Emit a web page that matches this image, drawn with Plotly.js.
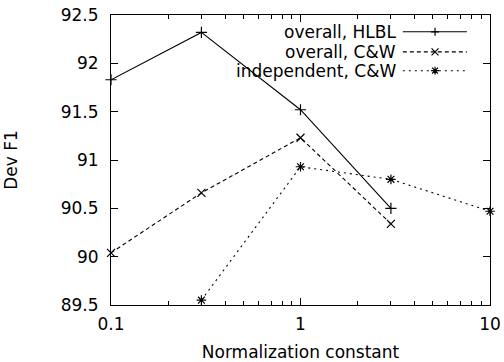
<!DOCTYPE html>
<html>
<head>
<meta charset="utf-8">
<script src="https://cdn.plot.ly/plotly-3.0.1.min.js"></script>
<style>html,body{margin:0;padding:0;background:#fff;}#chart{width:504px;height:362px;}</style>
</head>
<body>
<div id="chart"></div>
<script>
// Data
const seriesNames = ["overall, HLBL", "overall, C&W", "independent, C&W"];
const xHLBL = [0.1, 0.3, 1, 3];
const yHLBL = [91.83, 92.32, 91.52, 90.50];
const xCW = [0.1, 0.3, 1, 3];
const yCW = [90.04, 90.66, 91.23, 90.34];
const xInd = [0.3, 1, 3, 10];
const yInd = [89.55, 90.93, 90.80, 90.47];
const xTickVals = [0.1, 1, 10];
const xTickText = ["0.1", "1", "10"];
const xMinorVals = [0.2,0.3,0.4,0.5,0.6,0.7,0.8,0.9,2,3,4,5,6,7,8,9];
const yTickVals = [89.5, 90, 90.5, 91, 91.5, 92, 92.5];
const yTickText = ["89.5", "90", "90.5", "91", "91.5", "92", "92.5"];

const FONT = "DejaVu Sans, Liberation Sans, Arial, sans-serif";
const styles = [
  {dash: "solid", symbol: "cross-thin"},
  {dash: "4px,3px", symbol: "x-thin"},
  {dash: "2px,4px", symbol: "asterisk"}
];
const xs = [xHLBL, xCW, xInd];
const ys = [yHLBL, yCW, yInd];

const traces = xs.map((x, i) => ({
  x: x, y: ys[i], type: "scatter", mode: "lines+markers",
  name: seriesNames[i], showlegend: false, cliponaxis: false,
  line: {color: "#000", width: 1.1, dash: styles[i].dash},
  marker: {symbol: styles[i].symbol, size: 8, color: "#000", line: {color: "#000", width: 1.2}}
}));

// Custom gnuplot-style key (text on the left, sample on the right)
const keyRowsY = [0.942, 0.873, 0.808];
const keyTextX = 0.757, keyL = 0.770, keyR = 0.939, keyM = 0.855;
const annotations = [];
const shapes = [];
const glyph = {
  "cross-thin": "M-4,0 L4,0 M0,-4 L0,4",
  "x-thin": "M-3.5,-3.5 L3.5,3.5 M-3.5,3.5 L3.5,-3.5",
  "asterisk": "M-4,0 L4,0 M0,-4 L0,4 M-3,-3 L3,3 M-3,3 L3,-3"
};
seriesNames.forEach((n, i) => {
  annotations.push({xref: "paper", yref: "paper", x: keyTextX, y: keyRowsY[i],
    xanchor: "right", yanchor: "middle", text: n, showarrow: false,
    font: {family: FONT, size: 17, color: "#000"}});
  shapes.push({type: "line", xref: "paper", yref: "paper", x0: keyL, x1: keyR,
    y0: keyRowsY[i], y1: keyRowsY[i], line: {color: "#000", width: 1.1, dash: styles[i].dash}});
  shapes.push({type: "path", xref: "paper", yref: "paper", xsizemode: "pixel", ysizemode: "pixel",
    xanchor: keyM, yanchor: keyRowsY[i], path: glyph[styles[i].symbol],
    line: {color: "#000", width: 1.2}});
});

const layout = {
  width: 504, height: 362,
  margin: {l: 111, r: 14, t: 15, b: 57},
  paper_bgcolor: "#fff", plot_bgcolor: "#fff",
  font: {family: FONT, size: 17, color: "#000"},
  showlegend: false,
  xaxis: {
    type: "log", range: [-1, 1],
    tickmode: "array", tickvals: xTickVals, ticktext: xTickText,
    ticks: "inside", ticklen: 7, tickwidth: 1, tickcolor: "#000",
    minor: {tickmode: "array", tickvals: xMinorVals, ticks: "inside", ticklen: 4, tickwidth: 1, tickcolor: "#000", showgrid: false},
    showline: true, linecolor: "#000", linewidth: 1, mirror: "ticks",
    showgrid: false, zeroline: false,
    ticklabelstandoff: 4,
    tickfont: {family: FONT, size: 17, color: "#000"},
    title: {text: "Normalization constant", font: {family: FONT, size: 17, color: "#000"}, standoff: 15}
  },
  yaxis: {
    range: [89.5, 92.5],
    tickmode: "array", tickvals: yTickVals, ticktext: yTickText,
    ticks: "inside", ticklen: 7, tickwidth: 1, tickcolor: "#000",
    showline: true, linecolor: "#000", linewidth: 1, mirror: "ticks",
    showgrid: false, zeroline: false,
    ticklabelstandoff: 8,
    tickfont: {family: FONT, size: 17, color: "#000"},
    title: {text: "Dev F1", font: {family: FONT, size: 17, color: "#000"}, standoff: 38}
  },
  annotations: annotations,
  shapes: shapes
};

Plotly.newPlot("chart", traces, layout, {displayModeBar: false, staticPlot: true});
</script>
</body>
</html>
